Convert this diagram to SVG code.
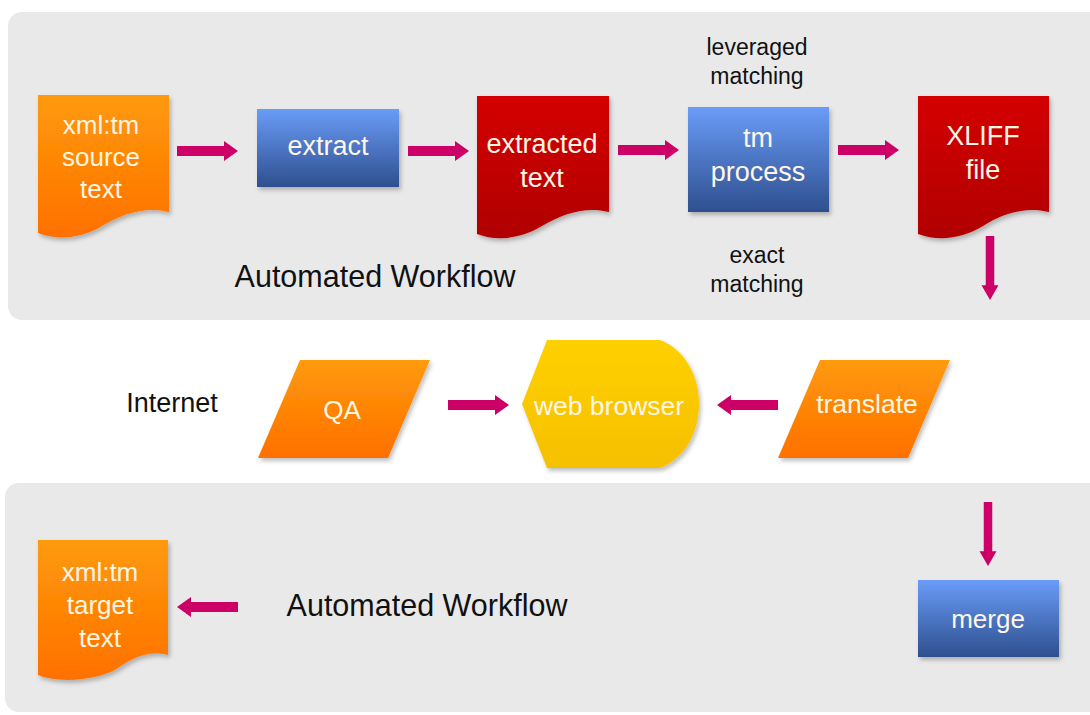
<svg xmlns="http://www.w3.org/2000/svg" xmlns:xlink="http://www.w3.org/1999/xlink" width="1090" height="715" viewBox="0 0 1090 715">
<style>
.panel{fill:#e9e9e9}
.wt{font-family:"Liberation Sans",Arial,sans-serif;fill:#fff6e6;text-anchor:middle}
.bt{font-family:"Liberation Sans",Arial,sans-serif;fill:#111;text-anchor:middle}
.arrow{fill:#cc0066}
</style>
<defs>
<linearGradient id="gOr" x1="0" y1="0" x2="0" y2="1"><stop offset="0" stop-color="#ff9a0a"/><stop offset="1" stop-color="#ff7000"/></linearGradient>
<linearGradient id="gRed" x1="0" y1="0" x2="0" y2="1"><stop offset="0" stop-color="#d40000"/><stop offset="1" stop-color="#b00000"/></linearGradient>
<linearGradient id="gBlue" x1="0" y1="0" x2="0" y2="1"><stop offset="0" stop-color="#6a9cf8"/><stop offset="1" stop-color="#2e4f8e"/></linearGradient>
<linearGradient id="gYel" x1="0" y1="0" x2="0" y2="1"><stop offset="0" stop-color="#ffd000"/><stop offset="1" stop-color="#f5c000"/></linearGradient>
<filter id="sh" x="-10%" y="-10%" width="130%" height="130%"><feDropShadow dx="2" dy="3" stdDeviation="2" flood-color="#000" flood-opacity="0.25"/></filter>
<path id="arR" d="M0,-5 H47 V-10 L61,0 L47,10 V5 H0 Z"/>
</defs>
<rect x="0" y="0" width="1090" height="715" fill="#ffffff"/>
<rect class="panel" x="8" y="12" width="1100" height="308" rx="14"/>
<rect class="panel" x="5" y="483" width="1100" height="229" rx="14"/>

<g id="connectors">
<use xlink:href="#arR" class="arrow" transform="translate(177,151)"/>
<use xlink:href="#arR" class="arrow" transform="translate(408,151)"/>
<use xlink:href="#arR" class="arrow" transform="translate(618,150)"/>
<use xlink:href="#arR" class="arrow" transform="translate(838,150)"/>
<use xlink:href="#arR" class="arrow" transform="translate(990,236) rotate(90) scale(1.05,0.85)"/>
<use xlink:href="#arR" class="arrow" transform="translate(448,405)"/>
<use xlink:href="#arR" class="arrow" transform="translate(778,405) rotate(180)"/>
<use xlink:href="#arR" class="arrow" transform="translate(988,502) rotate(90) scale(1.05,0.85)"/>
<use xlink:href="#arR" class="arrow" transform="translate(238,607) rotate(180)"/>
</g>

<g id="source">
<path d="M38,95 H169 V212 C145,206 122,214 102,226 C82,238 58,241 38,233 Z" fill="url(#gOr)" filter="url(#sh)"/>
<text class="wt" font-size="26"><tspan x="101" y="134">xml:tm</tspan><tspan x="101" y="166">source</tspan><tspan x="101" y="198">text</tspan></text>
</g>

<g id="extract">
<rect x="257" y="109" width="142" height="78" fill="url(#gBlue)" filter="url(#sh)"/>
<text class="wt" x="328" y="155" font-size="27">extract</text>
</g>

<g id="extracted">
<path d="M477,96 H609 V212 C585,206 562,214 542,226 C522,238 498,242 477,234 Z" fill="url(#gRed)" filter="url(#sh)"/>
<text class="wt" font-size="27"><tspan x="542" y="153">extracted</tspan><tspan x="542" y="187">text</tspan></text>
</g>

<g id="tmprocess">
<rect x="688" y="107" width="141" height="105" fill="url(#gBlue)" filter="url(#sh)"/>
<text class="wt" font-size="27"><tspan x="758" y="147">tm</tspan><tspan x="758" y="181">process</tspan></text>
</g>

<g id="leveraged">
<text class="bt" font-size="23"><tspan x="757" y="55">leveraged</tspan><tspan x="757" y="84">matching</tspan></text>
</g>
<g id="exact">
<text class="bt" font-size="23"><tspan x="757" y="263">exact</tspan><tspan x="757" y="292">matching</tspan></text>
</g>

<g id="xliff">
<path d="M918,96 H1049 V212 C1025,206 1002,214 983,226 C963,238 940,242 918,234 Z" fill="url(#gRed)" filter="url(#sh)"/>
<text class="wt" font-size="27"><tspan x="983" y="145">XLIFF</tspan><tspan x="983" y="179">file</tspan></text>
</g>

<g id="automated1">
<text class="bt" x="375" y="287" font-size="30.5">Automated Workflow</text>
</g>

<g id="internet">
<text class="bt" x="172" y="412" font-size="27">Internet</text>
</g>

<g id="qa">
<path d="M300,360 H430 L388,458 H258 Z" fill="url(#gOr)" filter="url(#sh)"/>
<text class="wt" x="342" y="419" font-size="26">QA</text>
</g>

<g id="browser">
<path d="M547,340 H660 C712,360 712,448 660,468 H547 L522,404 Z" fill="url(#gYel)" filter="url(#sh)"/>
<text class="wt" x="609" y="415" font-size="26.5">web browser</text>
</g>

<g id="translate">
<path d="M820,360 H950 L908,458 H778 Z" fill="url(#gOr)" filter="url(#sh)"/>
<text class="wt" x="867" y="413" font-size="26.5">translate</text>
</g>

<g id="target">
<path d="M38,540 H168 V655 C148,650 132,658 118,668 C100,680 60,684 38,675 Z" fill="url(#gOr)" filter="url(#sh)"/>
<text class="wt" font-size="26"><tspan x="100" y="581">xml:tm</tspan><tspan x="100" y="614">target</tspan><tspan x="100" y="647">text</tspan></text>
</g>

<g id="automated2">
<text class="bt" x="427" y="616" font-size="30.5">Automated Workflow</text>
</g>

<g id="merge">
<rect x="918" y="580" width="141" height="77" fill="url(#gBlue)" filter="url(#sh)"/>
<text class="wt" x="988" y="628" font-size="26">merge</text>
</g>
</svg>
